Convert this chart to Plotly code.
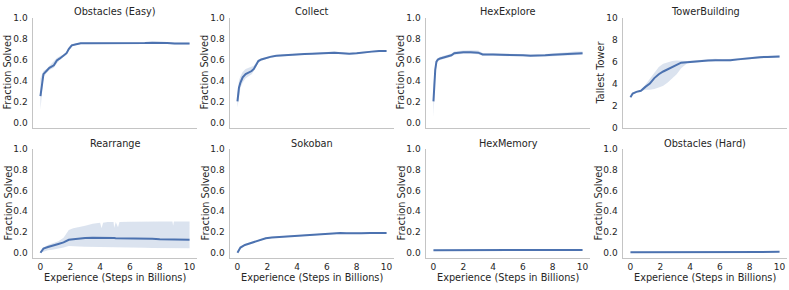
import plotly.graph_objects as go

# ---------------- data ----------------
titles = ["Obstacles (Easy)", "Collect", "HexExplore", "TowerBuilding",
          "Rearrange", "Sokoban", "HexMemory", "Obstacles (Hard)"]
y_titles = ["Fraction Solved", "Fraction Solved", "Fraction Solved", "Tallest Tower",
            "Fraction Solved", "Fraction Solved", "Fraction Solved", "Fraction Solved"]
x_title = "Experience (Steps in Billions)"
x_ticks = [0, 2, 4, 6, 8, 10]
frac_ticks = [0.0, 0.2, 0.4, 0.6, 0.8, 1.0]
tower_ticks = [0, 2, 4, 6, 8, 10]

obs_easy_x = [0, 0.1, 0.2, 0.4, 0.6, 0.9, 1.1, 1.3, 1.55, 1.75, 1.9, 2.1, 2.4, 2.7, 3.2, 4, 5, 5.5, 6, 7, 7.5, 8, 8.5, 9, 9.5, 10]
obs_easy_mean = [0.25, 0.38, 0.46, 0.49, 0.52, 0.545, 0.59, 0.61, 0.635, 0.66, 0.70, 0.735, 0.745, 0.755, 0.755, 0.755, 0.752, 0.75, 0.752, 0.757, 0.76, 0.762, 0.758, 0.752, 0.755, 0.752]
obs_easy_lo = [0.12, 0.3, 0.43, 0.47, 0.5, 0.52, 0.565, 0.595, 0.62, 0.645, 0.685, 0.725, 0.737, 0.747, 0.747, 0.747, 0.744, 0.742, 0.744, 0.749, 0.752, 0.754, 0.75, 0.744, 0.747, 0.744]
obs_easy_hi = [0.42, 0.45, 0.49, 0.51, 0.54, 0.575, 0.615, 0.63, 0.65, 0.675, 0.715, 0.745, 0.753, 0.763, 0.763, 0.763, 0.76, 0.758, 0.76, 0.765, 0.768, 0.77, 0.766, 0.76, 0.763, 0.76]

collect_x = [0, 0.1, 0.2, 0.35, 0.55, 0.75, 0.95, 1.1, 1.25, 1.4, 1.6, 1.9, 2.2, 2.6, 3.0, 3.5, 4.0, 4.5, 5.0, 5.5, 6.0, 6.5, 7.0, 7.5, 8.0, 8.5, 9.0, 9.5, 10]
collect_mean = [0.20, 0.33, 0.38, 0.43, 0.46, 0.475, 0.49, 0.51, 0.55, 0.585, 0.60, 0.615, 0.625, 0.635, 0.64, 0.645, 0.65, 0.652, 0.655, 0.66, 0.662, 0.665, 0.66, 0.655, 0.66, 0.67, 0.675, 0.68, 0.682]
collect_lo = [0.14, 0.26, 0.33, 0.38, 0.42, 0.44, 0.46, 0.49, 0.53, 0.57, 0.59, 0.605, 0.615, 0.627, 0.632, 0.638, 0.642, 0.645, 0.648, 0.652, 0.654, 0.656, 0.652, 0.648, 0.652, 0.662, 0.667, 0.672, 0.675]
collect_hi = [0.27, 0.40, 0.44, 0.48, 0.51, 0.52, 0.53, 0.54, 0.57, 0.60, 0.61, 0.625, 0.635, 0.643, 0.648, 0.652, 0.658, 0.66, 0.663, 0.668, 0.672, 0.675, 0.668, 0.662, 0.668, 0.678, 0.683, 0.688, 0.69]

hexexp_x = [0, 0.05, 0.12, 0.2, 0.3, 0.45, 0.7, 0.95, 1.2, 1.4, 1.6, 2.0, 2.5, 3.0, 3.3, 3.6, 4.0, 4.5, 5.0, 5.5, 6.0, 6.5, 7.0, 7.5, 8.0, 8.5, 9.0, 9.5, 10]
hexexp_mean = [0.20, 0.35, 0.50, 0.58, 0.60, 0.61, 0.62, 0.63, 0.64, 0.66, 0.665, 0.67, 0.668, 0.665, 0.648, 0.645, 0.647, 0.645, 0.645, 0.642, 0.64, 0.635, 0.635, 0.64, 0.645, 0.65, 0.655, 0.66, 0.66]
hexexp_lo = [0.05, 0.25, 0.44, 0.55, 0.58, 0.595, 0.605, 0.615, 0.625, 0.645, 0.65, 0.655, 0.655, 0.65, 0.635, 0.632, 0.635, 0.633, 0.632, 0.63, 0.628, 0.623, 0.624, 0.628, 0.632, 0.636, 0.64, 0.645, 0.645]
hexexp_hi = [0.36, 0.45, 0.56, 0.60, 0.615, 0.625, 0.635, 0.645, 0.655, 0.675, 0.68, 0.685, 0.688, 0.685, 0.662, 0.658, 0.66, 0.658, 0.658, 0.655, 0.652, 0.647, 0.647, 0.652, 0.66, 0.665, 0.67, 0.675, 0.675]

tower_x = [0, 0.15, 0.4, 0.7, 1.0, 1.3, 1.6, 1.9, 2.2, 2.5, 2.8, 3.1, 3.4, 3.8, 4.2, 4.7, 5.2, 5.7, 6.2, 6.7, 7.2, 7.7, 8.2, 8.7, 9.2, 9.6, 10]
tower_mean = [2.75, 3.1, 3.25, 3.35, 3.7, 4.0, 4.5, 4.85, 5.1, 5.3, 5.55, 5.75, 5.9, 5.95, 6.0, 6.07, 6.1, 6.12, 6.1, 6.12, 6.2, 6.28, 6.35, 6.4, 6.42, 6.43, 6.45]
tower_lo = [2.7, 3.05, 3.2, 3.3, 3.45, 3.45, 3.5, 3.65, 3.8, 4.1, 4.5, 4.85, 5.4, 5.85, 5.9, 5.97, 6.0, 6.02, 6.0, 6.02, 6.1, 6.18, 6.25, 6.3, 6.32, 6.33, 6.35]
tower_hi = [2.8, 3.15, 3.3, 3.42, 3.9, 4.4, 5.0, 5.5, 5.8, 5.95, 6.05, 6.1, 6.05, 6.05, 6.1, 6.17, 6.22, 6.25, 6.2, 6.22, 6.3, 6.38, 6.45, 6.5, 6.52, 6.53, 6.55]

rearr_x = [0, 0.2, 0.5, 0.8, 1.2, 1.55, 1.9, 2.2, 2.6, 3.0, 3.5, 4.0, 4.1, 4.2, 4.5, 4.9, 4.95, 5.05, 5.2, 5.3, 6.0, 6.5, 7.0, 7.5, 8.0, 8.5, 8.85, 8.9, 8.95, 9.5, 10]
rearr_mean = [0.0, 0.04, 0.055, 0.065, 0.085, 0.1, 0.125, 0.13, 0.137, 0.142, 0.145, 0.146, 0.146, 0.146, 0.145, 0.142, 0.141, 0.14, 0.14, 0.14, 0.14, 0.141, 0.138, 0.135, 0.13, 0.128, 0.127, 0.127, 0.127, 0.127, 0.125]
rearr_lo = [0.0, 0.01, 0.025, 0.03, 0.04, 0.05, 0.065, 0.065, 0.06, 0.057, 0.055, 0.053, 0.053, 0.053, 0.052, 0.051, 0.051, 0.05, 0.05, 0.05, 0.049, 0.048, 0.048, 0.047, 0.046, 0.046, 0.045, 0.045, 0.045, 0.045, 0.044]
rearr_hi = [0.005, 0.05, 0.075, 0.09, 0.11, 0.145, 0.22, 0.235, 0.245, 0.26, 0.28, 0.29, 0.235, 0.29, 0.295, 0.295, 0.24, 0.295, 0.245, 0.295, 0.298, 0.3, 0.3, 0.3, 0.3, 0.3, 0.3, 0.26, 0.3, 0.3, 0.3]

sokoban_x = [0, 0.2, 0.5, 1.0, 1.5, 1.9, 2.3, 2.8, 3.3, 3.9, 4.4, 5.0, 5.5, 6.0, 6.5, 6.9, 7.3, 7.8, 8.3, 8.9, 9.4, 10]
sokoban_mean = [0.0, 0.05, 0.075, 0.1, 0.12, 0.14, 0.148, 0.153, 0.157, 0.162, 0.17, 0.176, 0.178, 0.182, 0.185, 0.19, 0.188, 0.186, 0.188, 0.19, 0.192, 0.19]
sokoban_lo = [0.0, 0.045, 0.069, 0.094, 0.114, 0.134, 0.142, 0.147, 0.151, 0.156, 0.164, 0.17, 0.172, 0.176, 0.179, 0.184, 0.182, 0.18, 0.182, 0.184, 0.186, 0.184]
sokoban_hi = [0.0, 0.055, 0.081, 0.106, 0.126, 0.146, 0.154, 0.159, 0.163, 0.168, 0.176, 0.182, 0.184, 0.188, 0.191, 0.196, 0.194, 0.192, 0.194, 0.196, 0.198, 0.196]

hexmem_x = [0, 2, 4, 6, 8, 10]
hexmem_mean = [0.025, 0.027, 0.026, 0.026, 0.027, 0.026]
hexmem_lo = [0.022, 0.024, 0.023, 0.023, 0.024, 0.023]
hexmem_hi = [0.028, 0.030, 0.029, 0.029, 0.030, 0.029]

obs_hard_x = [0, 2, 4, 6, 8, 10]
obs_hard_mean = [0.004, 0.004, 0.005, 0.007, 0.008, 0.009]
obs_hard_lo = [0.002, 0.002, 0.003, 0.005, 0.006, 0.007]
obs_hard_hi = [0.006, 0.006, 0.007, 0.009, 0.010, 0.011]

panels = [
    (obs_easy_x, obs_easy_mean, obs_easy_lo, obs_easy_hi),
    (collect_x, collect_mean, collect_lo, collect_hi),
    (hexexp_x, hexexp_mean, hexexp_lo, hexexp_hi),
    (tower_x, tower_mean, tower_lo, tower_hi),
    (rearr_x, rearr_mean, rearr_lo, rearr_hi),
    (sokoban_x, sokoban_mean, sokoban_lo, sokoban_hi),
    (hexmem_x, hexmem_mean, hexmem_lo, hexmem_hi),
    (obs_hard_x, obs_hard_mean, obs_hard_lo, obs_hard_hi),
]

# ---------------- layout geometry (pixels) ----------------
W, H = 789, 290
col_px = [(33, 197), (230, 394), (426, 590), (623, 787)]
row_px = [(13, 127), (149, 262)]
title_y_px = [7, 143]
xtitle_y_px = 282
ytitle_x_px = [8, 205, 401, 601, 8, 205, 401, 598]

LINE = "#4C72B0"
BAND = "rgba(76,114,176,0.2)"
TXT = "#262626"
SPINE = "#c4c4c4"
FONT = "DejaVu Sans"
FS_TICK = 9
FS_LAB = 9.75

fig = go.Figure()
annotations = []
layout = dict(
    width=W, height=H, margin=dict(l=0, r=0, t=0, b=0),
    paper_bgcolor="white", plot_bgcolor="white", showlegend=False,
    font=dict(family=FONT, size=FS_TICK, color=TXT),
)

for i, (xs, mean, lo, hi) in enumerate(panels):
    r, c = divmod(i, 4)
    n = i + 1
    xa = "x" if n == 1 else f"x{n}"
    ya = "y" if n == 1 else f"y{n}"
    fig.add_trace(go.Scatter(x=xs, y=hi, xaxis=xa, yaxis=ya, mode="lines",
                             line=dict(width=0, color=BAND), hoverinfo="skip"))
    fig.add_trace(go.Scatter(x=xs, y=lo, xaxis=xa, yaxis=ya, mode="lines",
                             line=dict(width=0, color=BAND), fill="tonexty",
                             fillcolor=BAND, hoverinfo="skip"))
    fig.add_trace(go.Scatter(x=xs, y=mean, xaxis=xa, yaxis=ya, mode="lines",
                             line=dict(width=2, color=LINE)))

    x0, x1 = col_px[c]
    yt, yb = row_px[r]
    is_tower = (i == 3)
    layout["xaxis" if n == 1 else f"xaxis{n}"] = dict(
        domain=[x0 / W, x1 / W], anchor=ya, range=[-0.5, 10.5],
        showgrid=False, zeroline=False, showline=True, linecolor=SPINE, linewidth=1.5,
        tickvals=x_ticks, showticklabels=(r == 1), ticks="",
        ticklabeloverflow="allow",
        tickfont=dict(family=FONT, size=FS_TICK, color=TXT),
    )
    layout["yaxis" if n == 1 else f"yaxis{n}"] = dict(
        domain=[1 - yb / H, 1 - yt / H], anchor=xa,
        range=[0, 10] if is_tower else [-0.05, 1.0],
        showgrid=False, zeroline=False, showline=True, linecolor=SPINE, linewidth=1.5,
        tickvals=tower_ticks if is_tower else frac_ticks,
        tickformat="d" if is_tower else ".1f",
        ticks="outside", ticklen=2, tickcolor="rgba(0,0,0,0)",
        ticklabeloverflow="allow",
        tickfont=dict(family=FONT, size=FS_TICK, color=TXT),
    )
    annotations.append(dict(text=titles[i], x=(x0 + x1) / 2 / W, y=1 - title_y_px[r] / H,
                            xref="paper", yref="paper", showarrow=False,
                            xanchor="center", yanchor="middle",
                            font=dict(family=FONT, size=FS_LAB, color=TXT)))
    annotations.append(dict(text=y_titles[i], x=ytitle_x_px[i] / W,
                            y=1 - (yt + yb) / 2 / H, xref="paper", yref="paper",
                            showarrow=False, textangle=-90,
                            xanchor="center", yanchor="middle",
                            font=dict(family=FONT, size=FS_LAB, color=TXT)))
    if r == 1:
        annotations.append(dict(text=x_title, x=(x0 + x1) / 2 / W, y=1 - xtitle_y_px / H,
                                xref="paper", yref="paper", showarrow=False,
                                xanchor="center", yanchor="middle",
                                font=dict(family=FONT, size=FS_LAB, color=TXT)))

layout["annotations"] = annotations
fig.update_layout(**layout)
fig.write_html(
    "out.html",
    config={"displayModeBar": False, "staticPlot": True},
    post_script="document.documentElement.style.margin='0';"
                "document.body.style.margin='0';"
                "document.body.style.overflow='hidden';",
)
